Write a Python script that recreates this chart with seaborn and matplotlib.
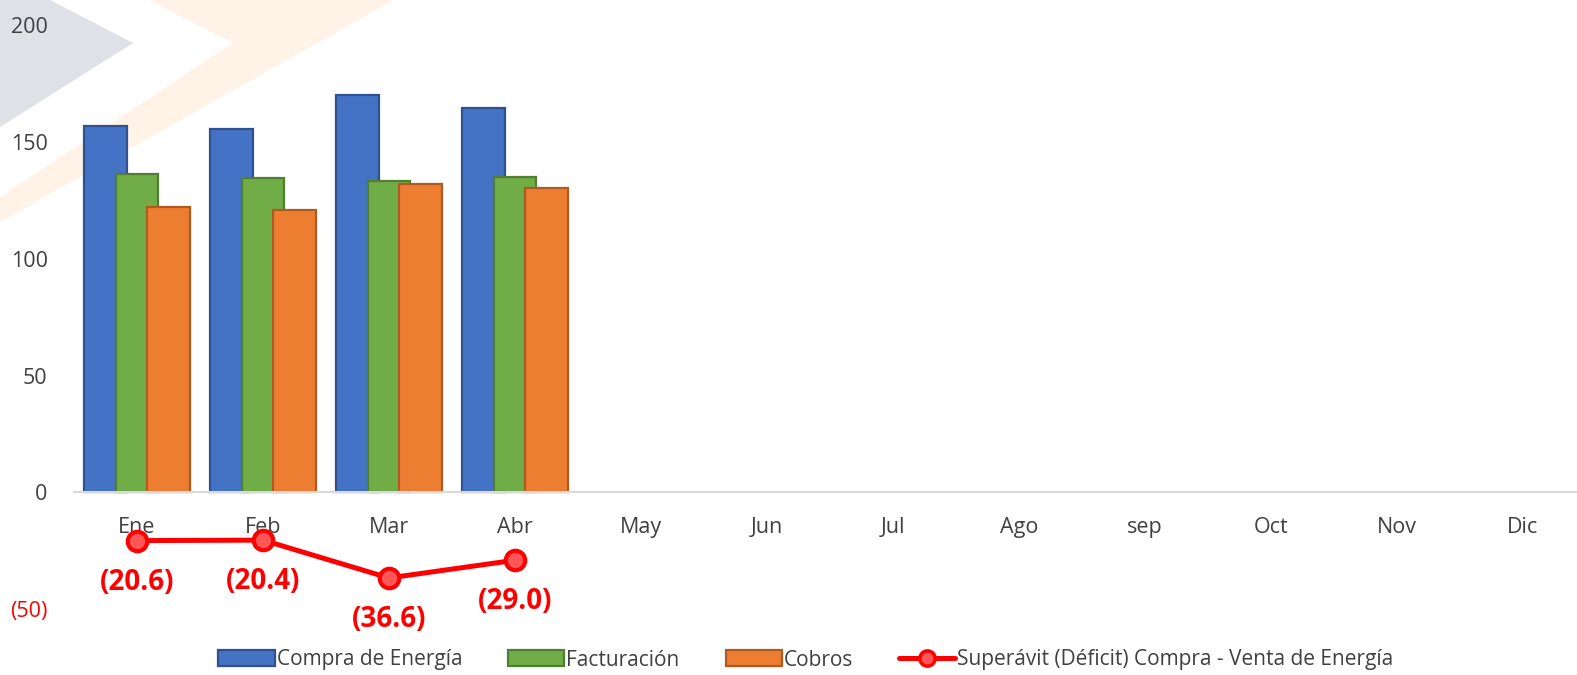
import numpy as np
import pandas as pd
import matplotlib
matplotlib.use("Agg")
import matplotlib.pyplot as plt
import seaborn as sns
from matplotlib.patches import Patch, Polygon
from matplotlib.lines import Line2D

# ---- data ----
months = ["Ene", "Feb", "Mar", "Abr", "May", "Jun", "Jul", "Ago", "sep", "Oct", "Nov", "Dic"]
compra = [156.9, 155.6, 170.1, 164.6]
facturacion = [136.3, 134.6, 133.3, 135.0]
cobros = [122.1, 120.9, 132.0, 130.3]
superavit = [-20.6, -20.4, -36.6, -29.0]

series_names = ["Compra de Energía", "Facturación", "Cobros"]
line_name = "Superávit (Déficit) Compra - Venta de Energía"
y_ticks = [-50, 0, 50, 100, 150, 200]

face = ["#4472C4", "#70AD47", "#ED7D31"]
edge = ["#2F528F", "#507E32", "#AE5A21"]
red = "#FF0000"

sns.set_theme(style="white")
plt.rcParams["font.family"] = ["Open Sans", "DejaVu Sans"]

rows = []
for name, vals in zip(series_names, [compra, facturacion, cobros]):
    for i, m in enumerate(months):
        rows.append({"mes": m, "serie": name, "valor": vals[i] if i < len(vals) else np.nan})
df = pd.DataFrame(rows)

W, H = 1577, 675
fig = plt.figure(figsize=(W / 100, H / 100), dpi=100)
fig.patch.set_facecolor("white")

# faint watermark chevrons in the top-left corner
def px(pts):
    return [(x / W, 1 - y / H) for x, y in pts]

fig.add_artist(Polygon(px([(0, 0), (50, 0), (133, 43), (0, 127)]), closed=True,
                       facecolor="#DFE1E7", edgecolor="none", zorder=-5, transform=fig.transFigure))
fig.add_artist(Polygon(px([(150, 0), (393, 0), (0, 222), (0, 197), (233, 43)]), closed=True,
                       facecolor="#FEF3E6", edgecolor="none", zorder=-5, transform=fig.transFigure))

ax = fig.add_axes([74 / W, 1 - 628 / H, 1 - 74 / W, (628 - 25) / H])
ax.set_facecolor("none")

sns.barplot(data=df, x="mes", y="valor", hue="serie", order=months, hue_order=series_names,
            palette=face, saturation=1, width=0.75, ax=ax, legend=False, errorbar=None)

# widen the bars so neighbours overlap like the original, and add darker edges
bar_w = 0.34
for cont, e in zip(ax.containers, edge):
    for p in cont.patches:
        c = p.get_x() + p.get_width() / 2
        p.set_x(c - bar_w / 2)
        p.set_width(bar_w)
        p.set_edgecolor(e)
        p.set_linewidth(1.6)

xpos = np.arange(len(superavit))
sns.lineplot(x=xpos, y=superavit, color=red, lw=3.6, marker="o", markersize=14,
             markerfacecolor="#FF5757", markeredgecolor=red, markeredgewidth=3,
             ax=ax, zorder=5)
for x, v in zip(xpos, superavit):
    ax.annotate(f"({abs(v):.1f})", (x, v), xytext=(0, -30), textcoords="offset points",
                ha="center", va="center", color=red, fontsize=20, fontweight="bold")

ax.set_xlim(-0.5, 11.43)
ax.set_ylim(-58, 200)
ax.set_yticks(y_ticks)
ax.set_yticklabels([f"({abs(t)})" if t < 0 else f"{t}" for t in y_ticks])
for lab, t in zip(ax.get_yticklabels(), y_ticks):
    lab.set_color(red if t < 0 else "#404040")
ax.tick_params(axis="y", length=0, pad=19, labelsize=15.5)
ax.tick_params(axis="x", length=0, pad=18, labelsize=15.5, labelcolor="#404040")
ax.set_xlabel("")
ax.set_ylabel("")
for s in ["top", "right", "left"]:
    ax.spines[s].set_visible(False)
ax.spines["bottom"].set_position(("data", 0))
ax.spines["bottom"].set_color("#D9D9D9")
ax.spines["bottom"].set_linewidth(1.5)

handles = [Patch(facecolor=f, edgecolor=e, linewidth=1.6) for f, e in zip(face, edge)]
handles.append(Line2D([], [], color=red, lw=3.6, marker="o", markersize=11,
                      markerfacecolor="#FF5757", markeredgecolor=red, markeredgewidth=2.5))
fig.legend(handles, series_names + [line_name], loc="center", bbox_to_anchor=(806 / W, 1 - 660 / H),
           ncol=4, frameon=False, fontsize=15, handlelength=2.7, handleheight=0.8,
           handletextpad=0.1, columnspacing=2.2, labelcolor="#404040")

fig.savefig("out.png", dpi=100, facecolor="white")
